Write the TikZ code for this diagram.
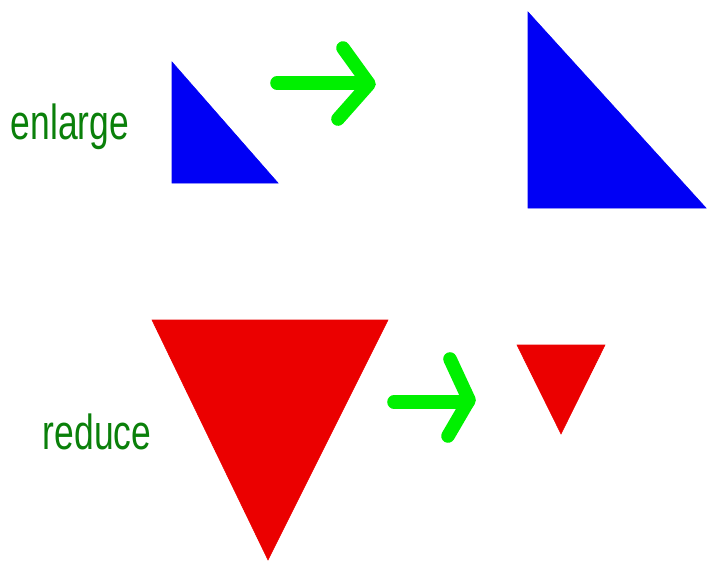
\documentclass[tikz,border=0pt]{standalone}
\usepackage{fontspec}
\setmainfont{Liberation Sans}
\usetikzlibrary{calc}
\definecolor{labelgreen}{RGB}{10,128,10}
\definecolor{arrowgreen}{RGB}{0,240,0}
\definecolor{triblue}{RGB}{0,0,245}
\definecolor{trired}{RGB}{235,0,0}
\begin{document}
\begin{tikzpicture}[x=0.025cm, y=-0.025cm,
    word/.style = {text = labelgreen, font = \fontsize{35}{40}\selectfont, xscale = 0.72, inner sep = 0pt},
    pen/.style = {draw = arrowgreen, line width = 0.34cm, line cap = round, line join = round}]
        \useasboundingbox (0,0) rectangle (708,564);
        % labels
        \node[word] (enlarge) at (70,127) {enlarge};
        \node[word] (reduce) at (97,432) {reduce};

        % enlarge: small triangle to big one
        \path[draw = triblue, fill = triblue](172,62) -- (172,183) -- (278,183) -- cycle;
        \path[draw = triblue, fill = triblue](528,12) -- (528,208) -- (706,208) -- cycle;
        \path[pen](277,83) -- (368,83);
        \path[pen](343,48) -- (369,84) -- (338,119);

        % reduce: big triangle to small one
        \path[draw = trired, fill = trired](152,320) -- (388,320) -- (268,560) -- cycle;
        \path[draw = trired, fill = trired](517,345) -- (605,345) -- (561,434) -- cycle;
        \path[pen](394,402) -- (468,402);
        \path[pen](450,359) -- (469,400) -- (448,436);
\end{tikzpicture}
\end{document}
